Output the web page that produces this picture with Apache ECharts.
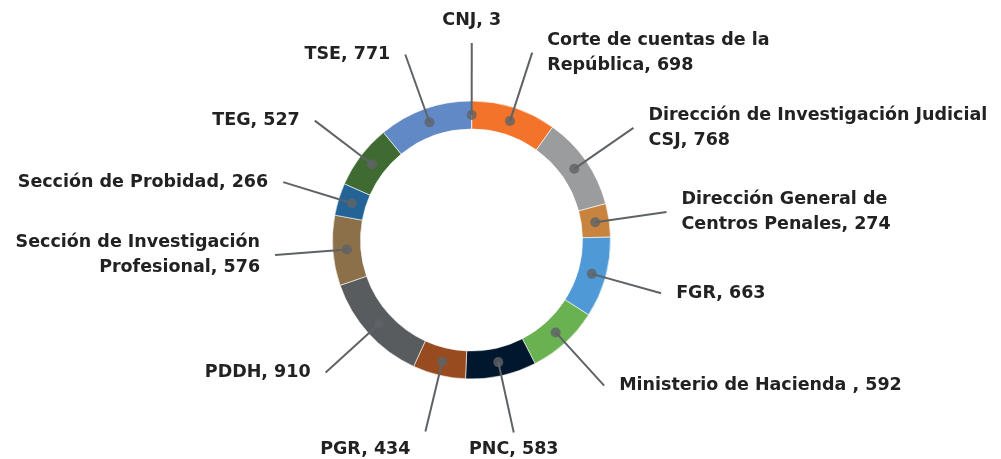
<!DOCTYPE html>
<html>
<head>
<meta charset="utf-8">
<script src="https://cdn.jsdelivr.net/npm/echarts@6/dist/echarts.min.js"></script>
<style>
    html, body {margin: 0; padding: 0; background: #ffffff;}
    #main {width: 1001px; height: 459px;}
</style>
</head>
<body>
<div id="main"></div>
<script>
let names = ['CNJ', 'Corte de cuentas de la\nRepública', 'Dirección de Investigación Judicial\nCSJ',
    'Dirección General de\nCentros Penales', 'FGR', 'Ministerio de Hacienda ', 'PNC', 'PGR', 'PDDH',
    'Sección de Investigación\nProfesional', 'Sección de Probidad', 'TEG', 'TSE'];
let values = [3, 698, 768, 274, 663, 592, 583, 434, 910, 576, 266, 527, 771];
let colors = ['#ffffff', '#f3732b', '#9a9c9d', '#c8843e', '#4f9ad6', '#6ab152', '#00172e',
    '#984b1f', '#585c5e', '#8b7049', '#246395', '#3f6b33', '#6189c6'];

let total = values.reduce((a, b) => a + b, 0);
let pie_data = names.map((n, i) => ({name: n, value: values[i], itemStyle: {color: colors[i]}}));

// dots sit in the middle of each slice
let acc = 0;
let dots = values.map(v => {
    let mid = acc + v / 2;
    acc += v;
    return [1, mid];
});

let center = [471.5, 240];
let chart = echarts.init(document.getElementById('main'));

// put the text just past the end of its leader line
function place_label(params) {
    let pts = params.labelLinePoints;
    if (!pts) return {};
    let end = pts[pts.length - 1];
    let dx = end[0] - center[0], dy = end[1] - center[1];
    let r = Math.sqrt(dx * dx + dy * dy);
    let s = dx / r, c = -dy / r;
    let out = {labelLinePoints: pts};
    if (Math.abs(s) < 0.22) {
        out.x = end[0];
        out.align = 'center';
    } else {
        out.x = end[0] + (s > 0 ? 15 : -15);
        out.align = s > 0 ? 'left' : 'right';
    }
    if (c > 0.97) {
        out.y = end[1] - 10;
        out.verticalAlign = 'bottom';
    } else if (c < -0.9) {
        out.y = end[1] + 5;
        out.verticalAlign = 'top';
    } else {
        out.y = end[1];
        out.verticalAlign = 'middle';
    }
    return out;
}

let option = {
    animation: false,
    polar: {center: center, radius: 125},
    angleAxis: {
        type: 'value', min: 0, max: total, startAngle: 90, clockwise: true,
        axisLine: {show: false}, axisTick: {show: false}, axisLabel: {show: false}, splitLine: {show: false}
    },
    radiusAxis: {
        type: 'value', min: 0, max: 1,
        axisLine: {show: false}, axisTick: {show: false}, axisLabel: {show: false}, splitLine: {show: false}
    },
    series: [
        {
            type: 'pie',
            center: center,
            radius: [111, 139],
            startAngle: 90,
            clockwise: true,
            silent: true,
            label: {show: false},
            labelLine: {show: false},
            itemStyle: {borderColor: '#ffffff', borderWidth: 0.6},
            data: pie_data
        },
        {
            // invisible pie, only used to hang labels from the middle of the ring
            type: 'pie',
            center: center,
            radius: [0, 125],
            startAngle: 90,
            clockwise: true,
            silent: true,
            z: 3,
            avoidLabelOverlap: false,
            itemStyle: {color: 'transparent'},
            label: {
                show: true,
                formatter: '{b}, {c}',
                color: '#222222',
                fontFamily: 'DejaVu Sans',
                fontWeight: 'bold',
                fontSize: 17.5,
                lineHeight: 25
            },
            labelLine: {
                show: true,
                length: 72,
                length2: 0,
                lineStyle: {color: '#5f6366', width: 2}
            },
            labelLayout: place_label,
            data: names.map((n, i) => ({name: n, value: values[i]}))
        },
        {
            type: 'scatter',
            coordinateSystem: 'polar',
            symbolSize: 10,
            silent: true,
            z: 5,
            itemStyle: {color: '#5f6366'},
            data: dots
        }
    ]
};

chart.setOption(option);
</script>
</body>
</html>
